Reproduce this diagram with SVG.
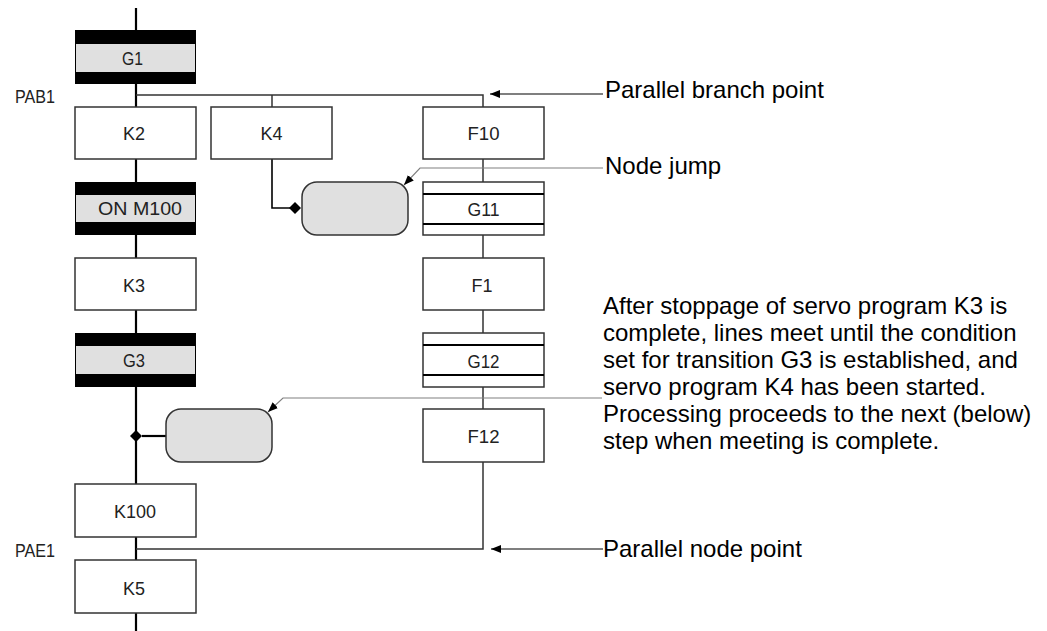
<svg xmlns="http://www.w3.org/2000/svg" width="1047" height="631" viewBox="0 0 1047 631">
<style>
.bx{fill:#fff;stroke:#333;stroke-width:1.5}
.lbl{font-family:"Liberation Sans",Arial,sans-serif;font-size:19px;fill:#222;text-anchor:middle}
.side{font-family:"Liberation Sans",Arial,sans-serif;font-size:19px;fill:#222}
.note{font-family:"Liberation Sans",Arial,sans-serif;font-size:24px;fill:#000}
.main{stroke:#000;stroke-width:2.2;fill:none}
.thin{stroke:#333;stroke-width:1.5;fill:none}
.lead{stroke:#808080;stroke-width:1.2;fill:none}
.arr{stroke:#000;stroke-width:1.2;fill:none}
.jump{fill:#e0e0e0;stroke:#333;stroke-width:1.5}
.grey{fill:#e0e0e0}
.bar{stroke:#000;stroke-width:2}
</style>
<defs>
<marker id="ah" viewBox="0 0 10 10" refX="10" refY="5" markerWidth="10" markerHeight="10" markerUnits="userSpaceOnUse" orient="auto">
<path d="M0,1 L10,5 L0,9 Z" fill="#000"/>
</marker>
</defs>
<g id="connectors">
<line class="main" x1="136" y1="8" x2="136" y2="631"/>
<polyline class="thin" points="136,95 483,95 483,549 136,549"/>
<line class="thin" x1="272" y1="95" x2="272" y2="107"/>
<polyline class="main" points="272,159 272,208 290,208" style="stroke-width:1.6"/>
<path d="M289,208 L295,202 L301,208 L295,214 Z" fill="#000"/>
<line class="main" x1="142" y1="436" x2="166" y2="436"/>
<path d="M130,436 L136,430 L142,436 L136,442 Z" fill="#000"/>
<line class="arr" x1="603" y1="94" x2="490" y2="94" marker-end="url(#ah)"/>
<line class="arr" x1="603" y1="549" x2="491" y2="549" marker-end="url(#ah)"/>
<polyline class="lead" points="603,168 420,168 404,185" marker-end="url(#ah)"/>
<polyline class="lead" points="602,398 283,398 268,412" marker-end="url(#ah)"/>
</g>
<g id="G1"><rect x="75" y="30" width="121" height="54" fill="#000"/><rect class="grey" x="76" y="44" width="119" height="28"/><text class="lbl" x="132.5" y="65" textLength="21" lengthAdjust="spacingAndGlyphs">G1</text></g>
<g id="K2"><rect class="bx" x="75" y="107" width="121" height="52"/><text class="lbl" x="134" y="140" textLength="22" lengthAdjust="spacingAndGlyphs">K2</text></g>
<g id="ON_M100"><rect x="75" y="182" width="121" height="53" fill="#000"/><rect class="grey" x="76" y="195" width="119" height="27"/><text class="lbl" x="140" y="215" textLength="84" lengthAdjust="spacingAndGlyphs">ON M100</text></g>
<g id="K3"><rect class="bx" x="75" y="258" width="121" height="52"/><text class="lbl" x="134" y="292" textLength="22" lengthAdjust="spacingAndGlyphs">K3</text></g>
<g id="G3"><rect x="75" y="333" width="121" height="54" fill="#000"/><rect class="grey" x="76" y="346" width="119" height="28"/><text class="lbl" x="134" y="367" textLength="22" lengthAdjust="spacingAndGlyphs">G3</text></g>
<g id="K100"><rect class="bx" x="75" y="484" width="121" height="53"/><text class="lbl" x="135" y="518" textLength="42" lengthAdjust="spacingAndGlyphs">K100</text></g>
<g id="K5"><rect class="bx" x="75" y="560" width="121" height="53"/><text class="lbl" x="134" y="595" textLength="22" lengthAdjust="spacingAndGlyphs">K5</text></g>
<g id="K4"><rect class="bx" x="211" y="107" width="121" height="52"/><text class="lbl" x="271.5" y="140" textLength="22" lengthAdjust="spacingAndGlyphs">K4</text></g>
<g id="F10"><rect class="bx" x="423" y="107" width="121" height="52"/><text class="lbl" x="483.5" y="140" textLength="32" lengthAdjust="spacingAndGlyphs">F10</text></g>
<g id="G11"><rect class="bx" x="423" y="182" width="121" height="53"/><line class="bar" x1="423" y1="194" x2="544" y2="194"/><line class="bar" x1="423" y1="224" x2="544" y2="224"/><text class="lbl" x="483.5" y="216" textLength="32" lengthAdjust="spacingAndGlyphs">G11</text></g>
<g id="F1"><rect class="bx" x="423" y="258" width="121" height="52"/><text class="lbl" x="482" y="292" textLength="21" lengthAdjust="spacingAndGlyphs">F1</text></g>
<g id="G12"><rect class="bx" x="423" y="333" width="121" height="54"/><line class="bar" x1="423" y1="345" x2="544" y2="345"/><line class="bar" x1="423" y1="375" x2="544" y2="375"/><text class="lbl" x="483.5" y="368" textLength="32" lengthAdjust="spacingAndGlyphs">G12</text></g>
<g id="F12"><rect class="bx" x="423" y="409" width="121" height="53"/><text class="lbl" x="483.5" y="443" textLength="32" lengthAdjust="spacingAndGlyphs">F12</text></g>
<g id="node_jump"><rect class="jump" x="302" y="182" width="106" height="53" rx="15"/></g>
<g id="meeting"><rect class="jump" x="166" y="409" width="106" height="53" rx="15"/></g>
<g id="labels">
<text class="side" x="15" y="103" textLength="40" lengthAdjust="spacingAndGlyphs">PAB1</text>
<text class="side" x="15" y="557" textLength="40" lengthAdjust="spacingAndGlyphs">PAE1</text>
<text class="note" x="605" y="98">Parallel branch point</text>
<text class="note" x="605" y="174">Node jump</text>
<text class="note" x="603" y="557">Parallel node point</text>
<text class="note" x="603" y="314">After stoppage of servo program K3 is</text>
<text class="note" x="603" y="341">complete, lines meet until the condition</text>
<text class="note" x="603" y="368">set for transition G3 is established, and</text>
<text class="note" x="603" y="395">servo program K4 has been started.</text>
<text class="note" x="603" y="422">Processing proceeds to the next (below)</text>
<text class="note" x="603" y="449">step when meeting is complete.</text>
</g>
</svg>
